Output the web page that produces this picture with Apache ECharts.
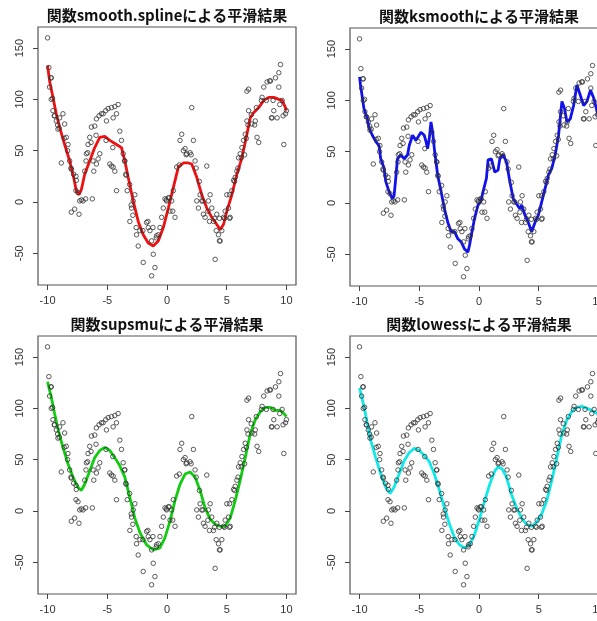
<!DOCTYPE html>
<html>
<head>
<meta charset="utf-8">
<script src="https://cdn.jsdelivr.net/npm/echarts@6/dist/echarts.min.js"></script>
<style>
  html, body { margin: 0; padding: 0; background: #fff; }
  #main { width: 597px; height: 621px; }
</style>
</head>
<body>
<div id="main"></div>
<script>
// 観測点 (4つのパネルで共通)
const pointX = [-10.0, -9.89, -9.69, -9.83, -9.69, -9.55, -9.41, -9.27, -9.13, -8.99, -8.71, -8.57, -8.43, -8.85, -8.29, -8.15,
  -8.01, -7.82, -7.59, -7.45, -7.31, -7.17, -8.01, -7.73, -7.37, -7.03, -6.81, -6.25, -6.89, -6.75, -6.61, -6.47,
  -6.33, -6.13, -5.91, -5.77, -5.63, -6.19, -6.05, -5.91, -5.69, -5.49, -5.35, -5.13, -4.93, -4.65, -4.37, -4.09,
  -4.23, -4.51, -5.07, -4.79, -4.65, -4.51, -4.37, -4.23, -3.95, -3.81, -3.67, -3.53, -3.45, -3.33, -3.11, -2.97,
  -2.83, -2.69, -2.55, -2.41, -2.27, -1.99, -1.71, -1.57, -1.43, -1.29, -1.15, -1.01, -1.29, -0.87, -0.73, -0.59,
  -0.45, -0.31, -0.17, -0.03, 0.11, 0.25, 0.39, 0.53, 0.67, 0.81, 1.09, 1.23, 1.37, 1.51, 1.65, 1.93,
  2.07, 2.21, 2.35, 2.49, 2.63, 2.77, 2.91, 3.05, 3.19, 3.33, 3.47, 3.61, 3.75, 3.89, 4.03, 4.17,
  4.31, 4.45, 4.59, 4.73, 4.87, 5.01, 5.15, 5.29, 5.43, 5.57, 5.71, 5.85, 5.99, 6.13, 6.27, 6.41,
  6.55, 6.69, 6.83, 6.69, 6.83, 7.11, 7.39, 7.54, 7.68, 7.96, 8.10, 8.38, 8.66, 8.80, 8.94, 9.08,
  9.22, 9.36, 9.50, 9.36, 9.64, 9.78, 9.92, 10.0,
  -9.72, -9.58, -9.44, -9.16, -9.02, -8.60, -8.32, -8.04, -7.62, -7.62, -6.78, -6.64, -6.36, -5.94, -5.10, -4.54,
  -3.55, -3.42, -3.13, -3.00, -2.86, -2.58, -2.02, -1.60, -1.18, -0.90, -0.06, 0.19, 0.48, 1.03, 1.60, 2.02,
  2.44, 2.71, 3.00, 3.42, 3.56, 3.97, 4.39, 4.12, 4.39, 4.82, 5.24, 5.24, 5.66, 5.94, 6.22, 6.50,
  6.64, 6.78, 7.06, 7.34, 7.48, 7.90, 8.32, 8.88, 9.44, 9.72, 8.74, 8.60]
const pointY = [160, 131, 121, 112, 100, 89, 84, 79, 71, 82, 86, 76, 63, 38, 56, 40,
  32, 27, 21, 9, 1, 2, -10, -7, -12, 1, 3, 3, 30, 47, 56, 63,
  73, 30, 37, 42, 47, 40, 74, 81, 84, 86, 86, 89, 91, 92, 93, 95,
  86, 82, 79, 37, 35, 34, 30, 11, 69, 60, 47, 40, 27, 11, -19, -6,
  1, 7, -32, -43, -28, -59, -20, -25, -28, -38, -51, -64, -72, -33, -32, -25,
  -15, -6, 3, 1, 4, -9, 1, 11, -15, 34, 60, 66, 50, 52, 47, 48,
  92, 60, 40, 1, -6, 7, 1, -12, -15, 35, 1, 7, -6, -19, -56, -12,
  -32, -38, -28, -15, -9, 7, -6, -15, 11, 21, 24, 30, 43, 47, 53, 60,
  66, 79, 89, 108, 110, 76, 79, 63, 58, 102, 112, 117, 118, 82, 89, 121,
  82, 112, 134, 126, 99, 56, 86, 89,
  121, 101, 84, 75, 72, 62, 50, 33, 25, 11, 40, 48, 58, 65, 60, 53,
  40, 26, 17, -3, -13, -25, -28, -19, -25, -35, 2, 4, -9, 36, 46, 46,
  33, 20, 1, -9, -19, -16, -16, -28, -38, -16, -16, 7, 20, 33, 43, 46,
  62, 75, 85, 75, 92, 99, 99, 99, 95, 84, 82, 118]

// 平滑曲線
const splineLine = [[-10, 133], [-9.83, 118], [-9.55, 102], [-9.27, 86], [-8.99, 73], [-8.57, 56], [-8.15, 40], [-7.82, 24],
  [-7.59, 11], [-7.37, 7], [-7.17, 12], [-6.89, 27], [-6.47, 40], [-6.05, 53], [-5.63, 63], [-5.21, 64], [-4.79, 60],
  [-4.23, 56], [-3.81, 53], [-3.53, 40], [-3.25, 24], [-2.83, 1], [-2.41, -19], [-1.99, -32], [-1.57, -40], [-1.15, -43],
  [-0.73, -38], [-0.31, -25], [0.11, -6], [0.53, 14], [0.95, 34], [1.37, 38], [1.79, 38], [2.07, 37], [2.49, 24],
  [2.91, 7], [3.33, -6], [3.75, -15], [4.17, -22], [4.45, -27], [4.73, -22], [5.01, -9], [5.43, 7], [5.85, 27],
  [6.27, 43], [6.69, 66], [6.97, 82], [7.25, 87], [7.68, 92], [8.10, 99], [8.52, 102], [8.94, 102], [9.36, 100],
  [9.64, 99], [9.92, 92], [10, 89]]
const ksmoothLine = [[-10, 123], [-9.92, 115], [-9.63, 92], [-9.35, 82], [-9.21, 73], [-8.93, 66], [-8.65, 60], [-8.37, 56],
  [-8.23, 43], [-7.95, 34], [-7.81, 21], [-7.53, 11], [-7.25, 4], [-7.11, 7], [-6.97, 24], [-6.83, 43], [-6.54, 47],
  [-6.26, 43], [-5.98, 47], [-5.84, 56], [-5.56, 66], [-5.28, 61], [-5.14, 60], [-4.86, 69], [-4.58, 66], [-4.44, 60],
  [-4.30, 53], [-4.16, 63], [-4.02, 79], [-3.88, 69], [-3.74, 53], [-3.46, 27], [-3.17, 11], [-2.89, -6], [-2.61, -19],
  [-2.33, -28], [-2.05, -28], [-1.77, -35], [-1.49, -38], [-1.21, -45], [-0.93, -48], [-0.79, -41], [-0.65, -32],
  [-0.37, -15], [-0.08, -2], [0.14, 1], [0.34, 11], [0.62, 24], [0.76, 42], [1.04, 43], [1.32, 30], [1.60, 32],
  [1.74, 43], [2.02, 47], [2.30, 40], [2.58, 21], [2.87, 4], [3.15, -1], [3.43, -6], [3.57, -2], [3.85, -12],
  [4.13, -19], [4.41, -28], [4.69, -19], [4.97, -12], [5.25, 1], [5.53, 14], [5.81, 27], [6.10, 34], [6.38, 47],
  [6.66, 66], [6.94, 99], [7.16, 92], [7.36, 79], [7.64, 82], [7.92, 95], [8.20, 115], [8.48, 105], [8.76, 95],
  [9.04, 99], [9.33, 110], [9.61, 102], [9.89, 89], [10, 84]]
const supsmuLine = [[-10, 126], [-9.69, 111], [-9.41, 95], [-9.13, 80], [-8.71, 62], [-8.29, 46], [-7.87, 33], [-7.45, 23],
  [-7.17, 20], [-6.89, 26], [-6.47, 39], [-6.05, 52], [-5.63, 59], [-5.21, 62], [-4.79, 59], [-4.37, 52], [-3.95, 44],
  [-3.53, 33], [-3.11, 13], [-2.69, -7], [-2.27, -21], [-1.71, -33], [-1.15, -38], [-0.59, -36], [-0.17, -26],
  [0.25, -10], [0.67, 10], [1.09, 26], [1.51, 36], [1.93, 38], [2.35, 33], [2.77, 20], [3.19, 3], [3.61, -8],
  [4.03, -13], [4.45, -15], [4.87, -15], [5.29, -7], [5.71, 10], [6.13, 30], [6.55, 52], [6.97, 75], [7.39, 89],
  [7.82, 97], [8.24, 101], [8.66, 101], [9.08, 98], [9.50, 98], [9.78, 95], [10, 92]]
const lowessLine = [[-10, 120], [-9.63, 102], [-9.35, 85], [-9.07, 69], [-8.65, 52], [-8.23, 36], [-7.81, 23], [-7.44, 17],
  [-7.11, 23], [-6.69, 36], [-6.26, 49], [-5.84, 57], [-5.42, 61], [-5.00, 59], [-4.58, 54], [-4.16, 48], [-3.74, 36],
  [-3.31, 20], [-2.89, 3], [-2.47, -13], [-2.05, -26], [-1.63, -33], [-1.21, -36], [-0.79, -33], [-0.37, -23],
  [0.06, -7], [0.48, 10], [0.90, 26], [1.32, 39], [1.60, 43], [1.94, 41], [2.30, 33], [2.72, 16], [3.15, 3],
  [3.57, -7], [3.99, -13], [4.41, -15], [4.83, -11], [5.25, -3], [5.67, 10], [6.10, 30], [6.52, 52], [6.94, 75],
  [7.36, 89], [7.78, 97], [8.20, 101], [8.62, 102], [9.04, 100], [9.47, 98], [9.89, 95], [10, 94]]

const titles = ['関数smooth.splineによる平滑結果', '関数ksmoothによる平滑結果', '関数supsmuによる平滑結果', '関数lowessによる平滑結果']
const lines = [splineLine, ksmoothLine, supsmuLine, lowessLine]
const lineColors = ['#ee1111', '#1111ee', '#11cc11', '#11e8e8']
const xTicks = [-10, -5, 0, 5, 10]
const yTicks = [-50, 0, 50, 100, 150]

const panels = [
  { left: 38, top: 27 },
  { left: 350, top: 28 },
  { left: 38, top: 336 },
  { left: 350, top: 336 }
]
const boxSize = 258

const chart = echarts.init(document.getElementById('main'), null, { renderer: 'canvas' })
const scatterData = pointX.map((x, i) => [x, pointY[i]])
const axisText = { color: '#333', fontSize: 11, fontFamily: 'Liberation Sans' }

const option = {
  animation: false,
  backgroundColor: '#fff',
  grid: panels.map(p => ({
    left: p.left, top: p.top, width: boxSize, height: boxSize,
    outerBoundsMode: 'none', containLabel: false,
    show: true, borderColor: '#555', borderWidth: 1.2, backgroundColor: '#fff'
  })),
  xAxis: panels.map((p, i) => ({
    gridIndex: i, type: 'value', min: -10.8, max: 10.8,
    axisLine: { show: false, onZero: false },
    splitLine: { show: false },
    axisTick: { show: true, inside: false, length: 5, customValues: xTicks, lineStyle: { color: '#444' } },
    axisLabel: { ...axisText, margin: 10, customValues: xTicks, hideOverlap: false }
  })),
  yAxis: panels.map((p, i) => ({
    gridIndex: i, type: 'value', min: -81, max: 170.6,
    axisLine: { show: false, onZero: false },
    splitLine: { show: false },
    axisTick: { show: true, inside: false, length: 5, customValues: yTicks, lineStyle: { color: '#444' } },
    axisLabel: { ...axisText, margin: 13, rotate: 90, customValues: yTicks }
  })),
  graphic: panels.map((p, i) => ({
    type: 'text',
    x: p.left + boxSize / 2,
    y: p.top - 12,
    style: {
      text: titles[i],
      fill: '#111',
      font: 'bold 15px "Noto Sans CJK JP"',
      textAlign: 'center',
      textVerticalAlign: 'middle'
    }
  })),
  series: []
}

panels.forEach((p, i) => {
  option.series.push({
    type: 'line',
    xAxisIndex: i, yAxisIndex: i,
    data: lines[i],
    showSymbol: false,
    lineStyle: { color: lineColors[i], width: 2.8 },
    z: 2
  })
  option.series.push({
    type: 'scatter',
    xAxisIndex: i, yAxisIndex: i,
    data: scatterData,
    symbol: 'circle',
    symbolSize: 4.5,
    itemStyle: { color: 'rgba(0,0,0,0)', borderColor: '#333', borderWidth: 1 },
    z: 3
  })
})

chart.setOption(option)
</script>
</body>
</html>
